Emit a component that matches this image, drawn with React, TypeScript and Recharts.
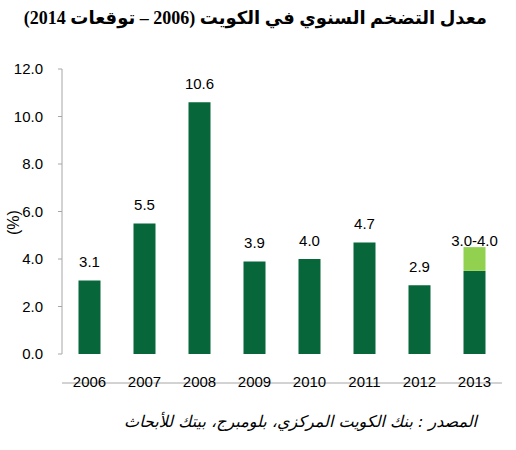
import React from 'react';
import { BarChart, Bar, XAxis, YAxis, LabelList, Label } from 'recharts';

const years = ['2006', '2007', '2008', '2009', '2010', '2011', '2012', '2013'];
const actualValues = [3.1, 5.5, 10.6, 3.9, 4.0, 4.7, 2.9, 3.5];
const forecastExtra = [null, null, null, null, null, null, null, 1.0];
const actualLabels = ['3.1', '5.5', '10.6', '3.9', '4.0', '4.7', '2.9', ''];
const forecastLabels = ['', '', '', '', '', '', '', '3.0-4.0'];
const yTicks = [0, 2, 4, 6, 8, 10, 12];
const boundaryTicks = [0, 1, 2, 3, 4, 5, 6, 7, 8];

const titleText = 'معدل التضخم السنوي في الكويت (2006 – توقعات 2014)';
const sourceText = 'المصدر : بنك الكويت المركزي، بلومبرج، بيتك للأبحاث';

const data = years.map((year, i) => ({
  year,
  pos: i + 0.5,
  actual: actualValues[i],
  forecast: forecastExtra[i],
  aLabel: actualLabels[i],
  fLabel: forecastLabels[i],
}));

const DARK = '#07673A';
const LIGHT = '#92D050';
const AXIS = '#A6A6A6';
const tickFont = { fontFamily: 'Liberation Sans, Arial, sans-serif', fontSize: 15, fill: '#000' };

export default function App() {
  return (
    <div style={{ position: 'absolute', left: 0, top: 0, width: 516, height: 450, background: '#fff' }}>
      <div
        style={{
          position: 'absolute',
          top: 5,
          right: 29,
          direction: 'rtl',
          whiteSpace: 'nowrap',
          fontFamily: '"Liberation Serif", "DejaVu Sans", serif',
          fontWeight: 'bold',
          fontSize: 18,
          lineHeight: '26px',
          color: '#000',
        }}
      >
        {titleText}
      </div>
      <BarChart
        width={516}
        height={450}
        data={data}
        margin={{ top: 69, right: 14, left: 0, bottom: 66 }}
        barCategoryGap="30%"
      >
        <XAxis
          xAxisId="bounds"
          type="number"
          dataKey="pos"
          domain={[0, 8]}
          ticks={boundaryTicks}
          tick={false}
          tickSize={5}
          height={1}
          stroke={AXIS}
          allowDataOverflow
        />
        <XAxis
          dataKey="year"
          axisLine={false}
          tickLine={false}
          tickSize={0}
          tickMargin={22}
          height={29}
          tick={tickFont}
          interval={0}
        />
        <YAxis
          domain={[0, 12]}
          ticks={yTicks}
          tickFormatter={(v: number) => v.toFixed(1)}
          width={62}
          tickSize={4}
          tickMargin={15}
          stroke={AXIS}
          tick={tickFont}
          interval={0}
        >
          <Label
            value="(%)"
            angle={-90}
            position="insideLeft"
            offset={13}
            dy={11}
            style={{ textAnchor: 'middle', fontFamily: 'Liberation Sans, Arial, sans-serif', fontSize: 16, fill: '#000' }}
          />
        </YAxis>
        <Bar dataKey="actual" stackId="a" fill={DARK} isAnimationActive={false}>
          <LabelList dataKey="aLabel" position="top" offset={13} style={tickFont} />
        </Bar>
        <Bar dataKey="forecast" stackId="a" fill={LIGHT} isAnimationActive={false}>
          <LabelList dataKey="fLabel" position="top" offset={1} style={tickFont} />
        </Bar>
      </BarChart>
      <div
        style={{
          position: 'absolute',
          top: 411,
          right: 39,
          direction: 'rtl',
          whiteSpace: 'nowrap',
          fontFamily: '"DejaVu Sans", sans-serif',
          fontStyle: 'italic',
          fontSize: 16,
          lineHeight: '22px',
          color: '#000',
        }}
      >
        {sourceText}
      </div>
    </div>
  );
}
